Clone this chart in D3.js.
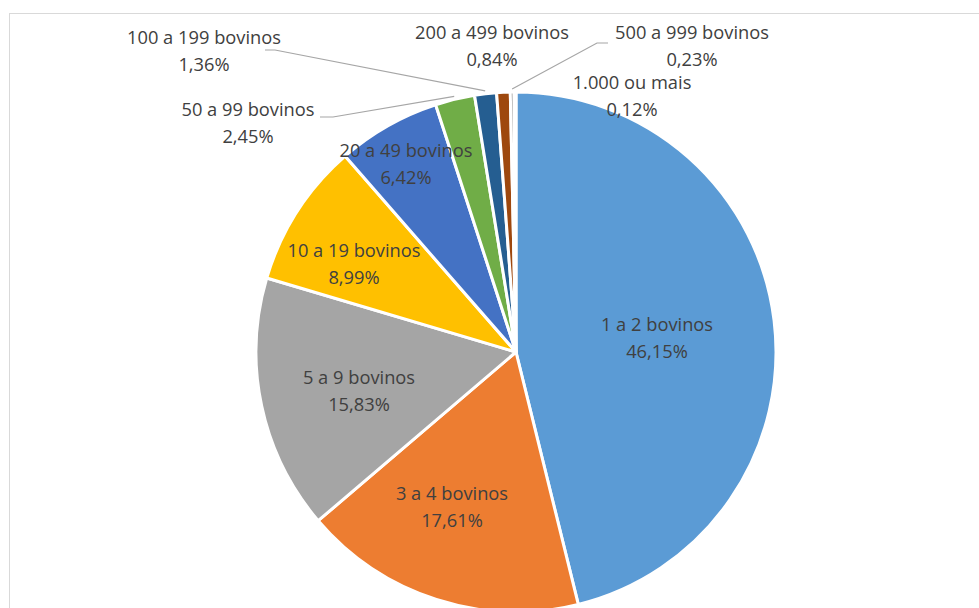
<!DOCTYPE html>
<html><head><meta charset="utf-8">
<script src="https://cdn.jsdelivr.net/npm/d3@7"></script>
<style>body{margin:0;background:#fff;overflow:hidden}svg{display:block}</style>
</head><body><svg id="c" width="979" height="608"></svg>
<script>
// ---- data ----
const categories = ["1 a 2 bovinos","3 a 4 bovinos","5 a 9 bovinos","10 a 19 bovinos","20 a 49 bovinos","50 a 99 bovinos","100 a 199 bovinos","200 a 499 bovinos","500 a 999 bovinos","1.000 ou mais"];
const values = [46.15, 17.61, 15.83, 8.99, 6.42, 2.45, 1.36, 0.84, 0.23, 0.12];
const percentLabels = ["46,15%","17,61%","15,83%","8,99%","6,42%","2,45%","1,36%","0,84%","0,23%","0,12%"];
const colors = ["#5B9BD5","#ED7D31","#A5A5A5","#FFC000","#4472C4","#70AD47","#255E91","#9E480E","#636363","#997300"];

// ---- layout (label centres relative to pie centre, px) ----
const labelOffsets = [[141,-14],[-64,155],[-157,39],[-162,-88],[-110,-188],[-268,-229],[-312,-301],[-24,-306],[176,-306],[116,-256]];
// leader lines: index -> [label attach point offset, elbow horizontal length (signed)]
const leaders = {5: [[-196,-235], 13], 6: [[-251,-302], 10], 8: [[92,-309], -11]};

const W = 979, H = 608;
const cx = 516, cy = 352, R = 260;
const svg = d3.select("#c");

svg.append("rect").attr("x",9.5).attr("y",13.5).attr("width",1000).attr("height",700)
  .attr("fill","#fff").attr("stroke","#d9d9d9").attr("stroke-width",1);

const pie = d3.pie().sort(null).value(d => d);
const arcs = pie(values);
const arc = d3.arc().innerRadius(0).outerRadius(R);
const g = svg.append("g").attr("transform",`translate(${cx},${cy})`);

g.selectAll("path.slice").data(arcs).join("path")
  .attr("class","slice")
  .attr("d", arc)
  .attr("fill",(d,i)=>colors[i])
  .attr("stroke","#fff").attr("stroke-width",3).attr("stroke-linejoin","round");

// leader lines
Object.entries(leaders).forEach(([k,[p,el]])=>{
  const a = arcs[+k];
  const mid = (a.startAngle + a.endAngle)/2;
  const ex = (R+3)*Math.sin(mid), ey = -(R+3)*Math.cos(mid);
  g.append("polyline")
    .attr("points",`${p[0]},${p[1]} ${p[0]+el},${p[1]} ${ex},${ey}`)
    .attr("fill","none").attr("stroke","#a6a6a6").attr("stroke-width",1.2);
});

// labels
const lbl = g.selectAll("text.lbl").data(arcs).join("text")
  .attr("class","lbl")
  .attr("text-anchor","middle")
  .attr("font-family","'Open Sans', sans-serif")
  .attr("font-size",18.3)
  .attr("fill","#404040");
lbl.each(function(d,i){
  const t = d3.select(this);
  const [dx,dy] = labelOffsets[i];
  t.append("tspan").attr("x",dx).attr("y",dy-13.5+6.5).text(categories[i]);
  t.append("tspan").attr("x",dx).attr("y",dy+13.5+6.5).text(percentLabels[i]);
});
</script>
</body></html>
